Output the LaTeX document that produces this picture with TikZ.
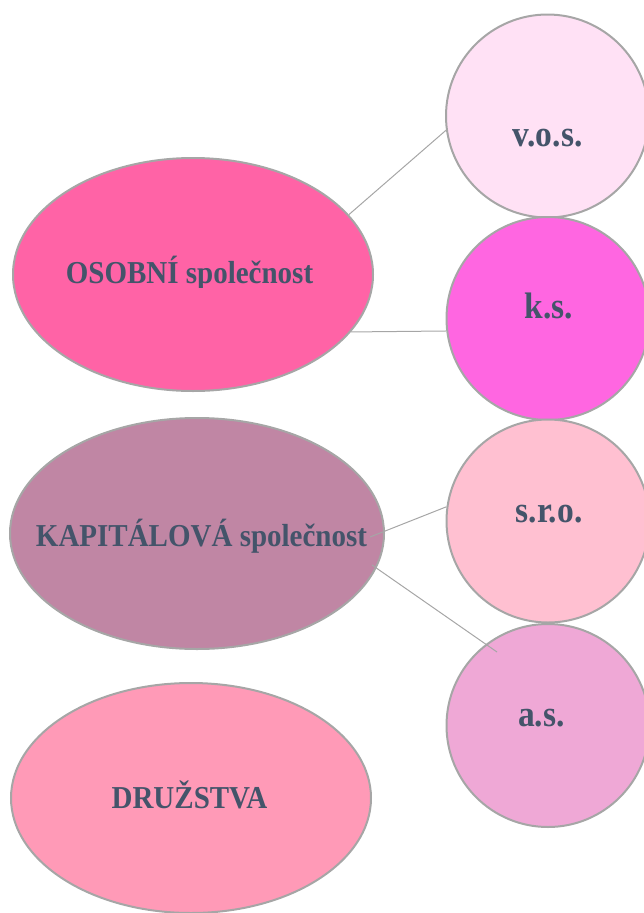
\documentclass[tikz,border=0pt]{standalone}
\usepackage{fontspec}
\setmainfont{Liberation Serif}
\usetikzlibrary{shapes.geometric}
\definecolor{edgegray}{HTML}{A6A6A6}
\definecolor{txtblue}{HTML}{44546A}
\definecolor{cOs}{HTML}{FF63A6}
\definecolor{cKap}{HTML}{C086A4}
\definecolor{cDr}{HTML}{FF9AB7}
\definecolor{cVos}{HTML}{FFE1F5}
\definecolor{cKs}{HTML}{FF66E1}
\definecolor{cSro}{HTML}{FFC0D1}
\definecolor{cAs}{HTML}{EFA8D6}
\begin{document}
\begin{tikzpicture}[x=1pt,y=-1pt,
  bigell/.style={ellipse, draw=edgegray, line width=2pt, inner sep=0pt, minimum width=#1},
  smallcirc/.style={circle, draw=edgegray, line width=2pt, inner sep=0pt, minimum size=203pt},
  bigtxt/.style={anchor=base, inner sep=0pt, text=txtblue, font=\bfseries\fontsize{29}{29}\selectfont},
  smalltxt/.style={anchor=base, inner sep=0pt, text=txtblue, font=\bfseries\fontsize{33.5}{33.5}\selectfont},
  link/.style={draw=edgegray, line width=1pt}]
\useasboundingbox (0,0) rectangle (644,913);
\clip (0,0) rectangle (644,913);
% ellipses
\node[bigell=360pt, minimum height=233pt, fill=cOs] (os) at (193,274.5) {};
\node[bigell=374pt, minimum height=231pt, fill=cKap] (kap) at (197,533.5) {};
\node[bigell=360pt, minimum height=230pt, fill=cDr] (dr) at (191,798) {};
% circles
\node[smallcirc, fill=cVos] (vos) at (547.5,116) {};
\node[smallcirc, fill=cKs] (ks) at (548,318.5) {};
\node[smallcirc, fill=cSro] (sro) at (548,521) {};
\node[smallcirc, fill=cAs] (as) at (548,725.5) {};
% texts
\begin{scope}
\clip (0,150) rectangle (400,287);
\node[bigtxt] (ost) at (189.5,283) {\scalebox{1}[1.1]{OSOBNÍ společnost}};
\end{scope}
\node[bigtxt] (kapt) at (201.5,546) {\scalebox{1}[1.1]{KAPITÁLOVÁ společnost}};
\node[bigtxt] (drt) at (189.5,808) {\scalebox{1}[1.1]{DRUŽSTVA}};
\node[smalltxt] (vost) at (547.5,146) {\scalebox{1}[1.1]{v.o.s.}};
\node[smalltxt] (kst) at (549,318) {\scalebox{1}[1.1]{k.s.}};
\node[smalltxt] (srot) at (549,522) {\scalebox{1}[1.1]{s.r.o.}};
\node[smalltxt] (ast) at (541.5,726) {\scalebox{1}[1.1]{a.s.}};
% connectors
\coordinate (k1) at (370,537);
\coordinate (k2) at (372,565);
\coordinate (a1) at (497,652);
\draw[link] (os.21.8) -- (vos.188);
\draw[link] (os.-20) -- (ks.187.6);
\draw[link] (k1) -- (sro.172);
\draw[link] (k2) -- (a1);
\end{tikzpicture}
\end{document}
